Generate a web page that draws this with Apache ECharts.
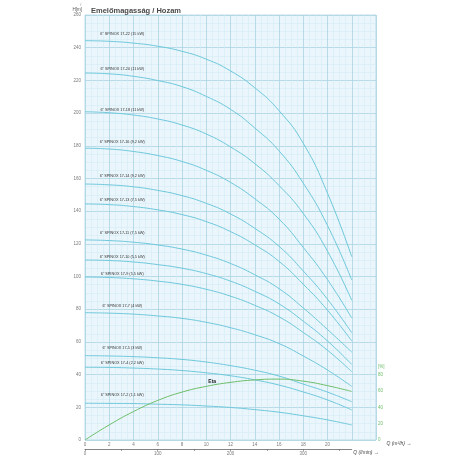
<!DOCTYPE html>
<html><head><meta charset="utf-8">
<script src="https://cdn.jsdelivr.net/npm/echarts/dist/echarts.min.js"></script>
<style>html,body{margin:0;padding:0;background:#fff}#c{width:456px;height:456px}</style>
</head><body><div id="c"></div>
<script>
// ---- data ----
const flowM3h = [0, 2, 4, 6, 8, 10, 12, 14, 16, 18, 20, 22];
const modelNames = [
  '6" SPINOX 17-22 (15 kW)', '6" SPINOX 17-20 (11 kW)', '6" SPINOX 17-18 (11 kW)',
  '6" SPINOX 17-16 (9,2 kW)', '6" SPINOX 17-14 (9,2 kW)', '6" SPINOX 17-13 (7,5 kW)',
  '6" SPINOX 17-11 (7,5 kW)', '6" SPINOX 17-10 (5,5 kW)', '6" SPINOX 17-9 (5,5 kW)',
  '6" SPINOX 17-7 (4 kW)', '6" SPINOX 17-5 (3 kW)', '6" SPINOX 17-4 (2,2 kW)',
  '6" SPINOX 17-2 (1,1 kW)'
];
const head_17_22 = [244.3, 243.9, 242.8, 240.9, 237.8, 233.0, 225.8, 215.5, 201.5, 181.5, 151.0, 112.1];
const head_17_20 = [224.5, 224.0, 222.5, 219.9, 216.2, 210.2, 202.3, 190.9, 176.9, 157.1, 131.2, 97.9];
const head_17_18 = [200.8, 200.2, 198.8, 196.4, 192.7, 187.2, 179.3, 169.1, 155.7, 138.6, 115.5, 85.5];
const head_17_16 = [178.5, 178.0, 176.5, 174.0, 170.4, 165.0, 157.6, 147.6, 135.2, 117.8, 98.1, 74.6];
const head_17_14 = [156.6, 156.1, 154.9, 152.7, 149.5, 144.8, 138.3, 129.5, 118.5, 103.4, 86.1, 65.6];
const head_17_13 = [144.4, 144.0, 142.8, 140.8, 137.9, 133.6, 127.5, 119.4, 109.3, 95.3, 79.4, 60.6];
const head_17_11 = [122.4, 122.0, 121.0, 119.3, 116.8, 113.1, 108.0, 101.1, 92.6, 80.8, 67.6, 53.8];
const head_17_10 = [110.1, 109.8, 108.9, 107.3, 105.1, 101.8, 97.2, 91.0, 83.3, 72.7, 60.6, 46.2];
const head_17_9  = [99.7, 99.4, 98.6, 97.2, 95.2, 92.2, 88.0, 82.4, 75.4, 65.8, 54.9, 41.8];
const head_17_7  = [77.9, 77.6, 77.0, 75.9, 74.4, 72.0, 68.7, 64.4, 59.0, 51.4, 42.8, 32.8];
const head_17_5  = [51.6, 51.4, 51.0, 50.3, 49.3, 47.7, 45.5, 42.7, 39.1, 34.2, 29.3, 23.4];
const head_17_4  = [44.5, 44.4, 44.0, 43.4, 42.5, 41.1, 39.3, 36.8, 33.6, 29.4, 24.5, 18.4];
const head_17_2  = [22.5, 22.4, 22.3, 21.9, 21.5, 20.8, 19.9, 18.6, 17.0, 14.8, 12.3, 9.2];
const efficiencyPct = [0, 18.5, 34.8, 48.4, 58.6, 65.6, 70.5, 73.5, 74.5, 72.0, 66.5, 59.4];
const headSeries = [head_17_22, head_17_20, head_17_18, head_17_16, head_17_14, head_17_13,
  head_17_11, head_17_10, head_17_9, head_17_7, head_17_5, head_17_4, head_17_2];

// ---- style (not data) ----
const labelLift = [5, 3, 1, 5, 7, 3, 6, 1.5, 2, 5, 6.5, 2.5, 6];
const curveColor = '#6ec8dc';
const etaColor = '#6dbd6a';
const majorGrid = '#abd4e2';
const minorGrid = '#d3ebf3';
const tickFont = { fontSize: 4.5, color: '#7a7a7a', fontFamily: 'Liberation Sans' };

const series = headSeries.map((h, s) => ({
  type: 'line', xAxisIndex: 0, yAxisIndex: 0, name: modelNames[s],
  smooth: true, symbol: 'circle', symbolSize: 0, showSymbol: true,
  silent: true, animation: false,
  lineStyle: { color: curveColor, width: 1 },
  itemStyle: { color: curveColor },
  data: flowM3h.map((q, i) => i === 1 ? {
    value: [q, h[i]],
    label: { show: true, position: 'top', distance: labelLift[s], offset: [13, 0],
      formatter: modelNames[s], fontSize: 3.8, color: '#333', fontFamily: 'Liberation Sans' }
  } : [q, h[i]])
}));
series.push({
  type: 'line', xAxisIndex: 0, yAxisIndex: 1, name: 'Eta',
  smooth: true, symbol: 'circle', symbolSize: 0, showSymbol: true,
  silent: true, animation: false,
  lineStyle: { color: etaColor, width: 1 }, itemStyle: { color: etaColor },
  data: flowM3h.map((q, i) => i === 5 ? {
    value: [q, efficiencyPct[i]],
    label: { show: true, position: 'top', distance: 2, offset: [6, 0], formatter: 'Eta',
      fontSize: 5, fontWeight: 'bold', color: '#222', fontFamily: 'Liberation Sans' }
  } : [q, efficiencyPct[i]])
});

const chart = echarts.init(document.getElementById('c'), null, { renderer: 'canvas' });
chart.setOption({
  animation: false,
  backgroundColor: '#ffffff',
  title: { text: 'Emelőmagasság / Hozam', left: 86, top: 2,
    textStyle: { fontSize: 7.5, fontWeight: 'bold', color: '#4a4a4a', fontFamily: 'Liberation Sans' } },
  grid: [
    { left: 85, right: 80, top: 15, bottom: 16, show: true, backgroundColor: '#eaf6fb',
      borderColor: majorGrid, borderWidth: 0.8 },
    { left: 85, width: 266.75, top: 440, height: 9, show: false }
  ],
  xAxis: [
    { gridIndex: 0, type: 'value', min: 0, max: 24, interval: 2,
      axisLine: { show: false }, axisTick: { show: false },
      axisLabel: Object.assign({ margin: 2, formatter: v => (v <= 20 ? String(v) : '') }, tickFont),
      splitLine: { show: true, lineStyle: { color: majorGrid, width: 0.8 } },
      minorTick: { show: false, splitNumber: 4 },
      minorSplitLine: { show: true, lineStyle: { color: minorGrid, width: 0.5 } },
      name: 'Q (m³/h) →', nameLocation: 'end', nameGap: -23,
      nameTextStyle: { fontSize: 5, color: '#444', align: 'left', verticalAlign: 'top',
        padding: [1, 0, 0, 0], fontStyle: 'italic', fontFamily: 'Liberation Sans' } },
    { gridIndex: 1, type: 'value', min: 0, max: 366.67, interval: 50, position: 'bottom',
      axisLine: { show: true, lineStyle: { color: '#666', width: 0.8 } },
      axisTick: { show: true, length: 2, lineStyle: { color: '#666', width: 0.6 } },
      axisLabel: Object.assign({ margin: 2, showMaxLabel: false,
        formatter: v => (v % 100 === 0 ? String(v) : '') }, tickFont),
      splitLine: { show: false },
      name: 'Q (l/min) →', nameLocation: 'end', nameGap: 1.5,
      nameTextStyle: { fontSize: 5, color: '#444', align: 'left', verticalAlign: 'top',
        padding: [1, 0, 0, 0], fontStyle: 'italic', fontFamily: 'Liberation Sans' } }
  ],
  yAxis: [
    { gridIndex: 0, type: 'value', min: 0, max: 260, interval: 20,
      axisLine: { show: false }, axisTick: { show: false },
      axisLabel: Object.assign({ margin: 4 }, tickFont),
      splitLine: { show: true, lineStyle: { color: majorGrid, width: 0.8 } },
      minorTick: { show: false, splitNumber: 4 },
      minorSplitLine: { show: true, lineStyle: { color: minorGrid, width: 0.5 } },
      name: '↑\nH[m]', nameLocation: 'end', nameGap: 2,
      nameTextStyle: { fontSize: 4.5, color: '#555', align: 'right', padding: [0, 3, 0, 0],
        lineHeight: 5, fontFamily: 'Liberation Sans' } },
    { gridIndex: 0, type: 'value', min: 0, max: 520, interval: 10, position: 'right',
      axisLine: { show: false }, axisTick: { show: false }, splitLine: { show: false },
      axisLabel: { margin: 2, fontSize: 4.5, color: '#6dbd6a', fontFamily: 'Liberation Sans',
        showMinLabel: true,
        formatter: v => (v <= 80 && v % 20 === 0 ? String(v) : (v === 90 ? '[%]' : '')) } },
    { gridIndex: 1, type: 'value', min: 0, max: 1, show: false }
  ],
  series: series
});
</script>
</body></html>
